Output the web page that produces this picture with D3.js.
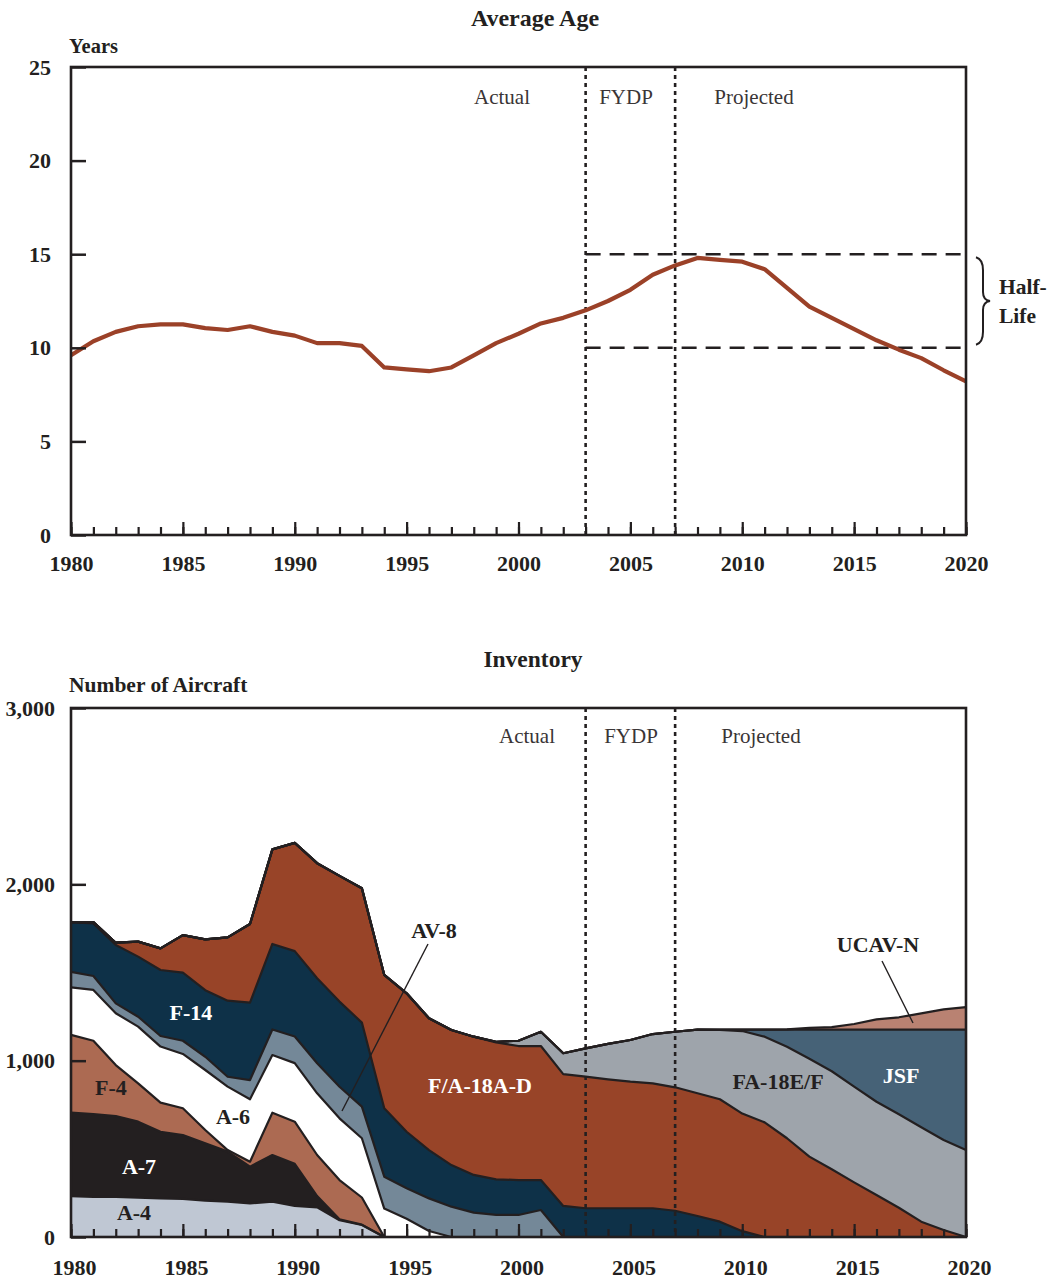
<!DOCTYPE html>
<html>
<head>
<meta charset="utf-8">
<script src="https://cdn.jsdelivr.net/npm/d3@7"></script>
<style>
  html, body { margin: 0; padding: 0; background: #ffffff; }
  svg { display: block; }
  text { font-family: "Liberation Serif", "DejaVu Serif", serif; fill: #231f20; }
</style>
</head>
<body>
<svg id="chart" width="1052" height="1281"></svg>
<script>
// ---- data -------------------------------------------------------------
const years = [1980,1981,1982,1983,1984,1985,1986,1987,1988,1989,
               1990,1991,1992,1993,1994,1995,1996,1997,1998,1999,
               2000,2001,2002,2003,2004,2005,2006,2007,2008,2009,
               2010,2011,2012,2013,2014,2015,2016,2017,2018,2019,2020];

// average fleet age, years
const averageAge = [9.6,10.35,10.85,11.15,11.25,11.25,11.05,10.95,11.15,10.85,
                    10.65,10.25,10.25,10.1,8.95,8.85,8.75,8.95,9.6,10.25,
                    10.75,11.3,11.6,12.0,12.5,13.1,13.9,14.4,14.8,14.7,
                    14.6,14.2,13.2,12.2,11.6,11.0,10.4,9.9,9.45,8.8,8.2];

// inventory by aircraft type, number of aircraft
const a4   = [232,228,227,223,219,216,206,200,191,200,176,168,95,68,0,0,0,0,0,0,0,0,0,0,0,0,0,0,0,0,0,0,0,0,0,0,0,0,0,0,0];
const a7   = [473,469,459,431,378,362,325,284,208,265,239,64,5,2,0,0,0,0,0,0,0,0,0,0,0,0,0,0,0,0,0,0,0,0,0,0,0,0,0,0,0];
const f4   = [441,416,289,217,165,152,76,9,28,240,239,233,223,154,0,0,0,0,0,0,0,0,0,0,0,0,0,0,0,0,0,0,0,0,0,0,0,0,0,0,0];
const a6   = [270,288,294,322,318,308,340,360,354,327,332,350,350,336,161,103,34,0,0,0,0,0,0,0,0,0,0,0,0,0,0,0,0,0,0,0,0,0,0,0,0];
const av8  = [88,79,56,56,60,75,75,56,109,145,151,170,179,179,181,173,185,172,138,125,125,153,0,0,0,0,0,0,0,0,0,0,0,0,0,0,0,0,0,0,0];
const f14  = [282,298,331,341,374,386,378,431,439,485,484,482,483,477,388,321,274,236,214,202,198,170,176,163,163,163,163,149,119,87,33,0,0,0,0,0,0,0,0,0,0];
const fa18ad = [0,8,13,85,123,213,288,359,446,536,614,653,713,762,756,785,747,766,784,777,760,760,748,746,731,718,708,700,696,694,667,650,560,456,384,310,238,166,87,40,0];
const fa18ef = [0,0,0,0,0,0,0,0,0,0,0,0,0,0,0,0,0,0,0,3,30,81,118,161,201,236,280,315,361,393,468,486,519,555,556,543,529,530,535,510,493];
const jsf  = [0,0,0,0,0,0,0,0,0,0,0,0,0,0,0,0,0,0,0,0,0,0,0,0,0,0,0,0,0,2,8,40,97,165,236,323,409,480,554,626,683];
const ucav = [0,0,0,0,0,0,0,0,0,0,0,0,0,0,0,0,0,0,0,0,0,0,0,0,0,0,0,0,0,0,0,0,2,10,14,32,58,70,92,115,128];

const seriesKeys = ["A-4","A-7","F-4","A-6","AV-8","F-14","F/A-18A-D","FA-18E/F","JSF","UCAV-N"];
const seriesValues = [a4, a7, f4, a6, av8, f14, fa18ad, fa18ef, jsf, ucav];
const seriesColors = ["#bfc7d3","#231f20","#ac6a52","#ffffff","#748898","#0e3148","#984428","#9ea4ab","#466277","#b98272"];

const ageTicks = [0,5,10,15,20,25];
const inventoryTicks = [0,1000,2000,3000];
const yearTicks = [1980,1985,1990,1995,2000,2005,2010,2015,2020];
const periodBreaks = [2003, 2007];
const halfLifeBand = [10, 15];
const periodLabels = ["Actual","FYDP","Projected"];

// ---- setup ------------------------------------------------------------
const ink = "#231f20";
const svg = d3.select("#chart");

const x = d3.scaleLinear().domain([1980, 2020]).range([71, 966]);

function yearAxis(g, y0, padding, shift) {
  // minor ticks every year, major ticks with labels every five years
  g.append("g").attr("transform", `translate(0,${y0})`)
    .call(d3.axisBottom(x).tickValues(years).tickSize(-8).tickFormat(""))
    .call(s => s.select(".domain").remove())
    .call(s => s.selectAll("line").attr("stroke", ink).attr("stroke-width", 2.2));
  g.append("g").attr("transform", `translate(0,${y0})`)
    .call(d3.axisBottom(x).tickValues(yearTicks).tickSize(-13).tickPadding(padding).tickFormat(d3.format("d")))
    .call(s => s.select(".domain").remove())
    .call(s => s.selectAll("line").attr("stroke", ink).attr("stroke-width", 2.2))
    .call(s => s.selectAll("text").attr("fill", ink).attr("dx", shift)
      .style("font-size", "22px").style("font-weight", "bold").attr("font-family", null));
}

function valueAxis(g, y, ticks, fmt, padding) {
  g.append("g").attr("transform", `translate(${x.range()[0]},0)`)
    .call(d3.axisLeft(y).tickValues(ticks).tickSize(-15).tickPadding(padding).tickFormat(fmt))
    .call(s => s.select(".domain").remove())
    .call(s => s.selectAll("line").attr("stroke", ink).attr("stroke-width", 2.5))
    .call(s => s.selectAll("text").attr("fill", ink).style("font-size", "22px").style("font-weight", "bold").attr("font-family", null));
}

function frame(g, y) {
  const [x0, x1] = x.range();
  const [yb, yt] = y.range();
  g.append("rect").attr("x", x0).attr("y", yt).attr("width", x1 - x0).attr("height", yb - yt)
    .attr("fill", "none").attr("stroke", ink).attr("stroke-width", 2.6);
}

function periodLines(g, y) {
  const [yb, yt] = y.range();
  g.selectAll("line.period").data(periodBreaks).join("line")
    .attr("class", "period")
    .attr("x1", d => x(d)).attr("x2", d => x(d))
    .attr("y1", yt).attr("y2", yb)
    .attr("stroke", ink).attr("stroke-width", 2.6).attr("stroke-dasharray", "4,4");
}

function periodText(g, xs, baseline) {
  g.selectAll("text.period").data(periodLabels).join("text")
    .attr("class", "period")
    .attr("x", (d, i) => xs[i]).attr("y", baseline)
    .attr("text-anchor", "middle")
    .style("font-size", "21px").style("fill", "#3a3536")
    .text(d => d);
}

// ---- Average Age --------------------------------------------------------
const yAge = d3.scaleLinear().domain([0, 25]).range([535, 67]);
const ageChart = svg.append("g");

ageChart.append("text").attr("x", 535).attr("y", 26).attr("text-anchor", "middle")
  .style("font-size", "24px").style("font-weight", "bold").text("Average Age");
ageChart.append("text").attr("x", 69).attr("y", 53)
  .style("font-size", "20.5px").style("font-weight", "bold").text("Years");

// half-life band
ageChart.selectAll("line.half").data(halfLifeBand).join("line")
  .attr("class", "half")
  .attr("x1", x(2003)).attr("x2", x(2020))
  .attr("y1", d => yAge(d)).attr("y2", d => yAge(d))
  .attr("stroke", ink).attr("stroke-width", 2.6).attr("stroke-dasharray", "15,9");

periodLines(ageChart, yAge);
periodText(ageChart, [502, 626, 754], 104);

ageChart.append("path")
  .datum(years.map((yr, i) => [yr, averageAge[i]]))
  .attr("fill", "none").attr("stroke", "#9b4128").attr("stroke-width", 4.2)
  .attr("stroke-linejoin", "round")
  .attr("d", d3.line().x(d => x(d[0])).y(d => yAge(d[1])));

valueAxis(ageChart, yAge, ageTicks, d3.format("d"), 20);
yearAxis(ageChart, yAge(0), 20, 0);
frame(ageChart, yAge);

// brace marking the half-life band
{
  const yT = yAge(halfLifeBand[1]), yB = yAge(halfLifeBand[0]), yM = (yT + yB) / 2;
  const xa = 976, xb = 983, xc = 990;
  ageChart.append("path")
    .attr("d", `M${xa},${yT + 3} Q${xb},${yT + 5} ${xb},${yT + 16} L${xb},${yM - 9} Q${xb},${yM - 1} ${xc},${yM}` +
               ` Q${xb},${yM + 1} ${xb},${yM + 9} L${xb},${yB - 16} Q${xb},${yB - 5} ${xa},${yB - 3}`)
    .attr("fill", "none").attr("stroke", ink).attr("stroke-width", 2);
  ageChart.append("text").attr("x", 999).attr("y", yM - 7)
    .style("font-size", "21.5px").style("font-weight", "bold").text("Half-");
  ageChart.append("text").attr("x", 999).attr("y", yM + 22)
    .style("font-size", "21.5px").style("font-weight", "bold").text("Life");
}

// ---- Inventory ----------------------------------------------------------
const yInv = d3.scaleLinear().domain([0, 3000]).range([1237, 708]);
const invChart = svg.append("g");

invChart.append("text").attr("x", 533).attr("y", 667).attr("text-anchor", "middle")
  .style("font-size", "23.5px").style("font-weight", "bold").text("Inventory");
invChart.append("text").attr("x", 69).attr("y", 692)
  .style("font-size", "21.5px").style("font-weight", "bold").text("Number of Aircraft");

const table = years.map((yr, i) => {
  const row = { year: yr };
  seriesKeys.forEach((k, j) => { row[k] = seriesValues[j][i]; });
  return row;
});
const stacked = d3.stack().keys(seriesKeys)(table);

const area = d3.area().x(d => x(d.data.year)).y0(d => yInv(d[0])).y1(d => yInv(d[1]));
const edge = d3.line().x(d => x(d.data.year)).y(d => yInv(d[1]));

invChart.selectAll("path.layer").data(stacked).join("path")
  .attr("class", "layer")
  .attr("fill", (d, i) => seriesColors[i])
  .attr("d", area);

invChart.selectAll("path.edge").data(stacked).join("path")
  .attr("class", "edge")
  .attr("fill", "none").attr("stroke", ink).attr("stroke-width", 2.2)
  .attr("stroke-linejoin", "round")
  .attr("d", edge);

periodLines(invChart, yInv);
periodText(invChart, [527, 631, 761], 743);

// series labels
const seriesLabels = [
  { text: "F-14", x: 191, y: 1020, fill: "#ffffff" },
  { text: "F-4", x: 111, y: 1095, fill: ink },
  { text: "A-6", x: 233, y: 1124, fill: ink },
  { text: "A-7", x: 139, y: 1174, fill: "#ffffff" },
  { text: "A-4", x: 134, y: 1220, fill: ink },
  { text: "F/A-18A-D", x: 480, y: 1093, fill: "#ffffff" },
  { text: "FA-18E/F", x: 778, y: 1089, fill: ink },
  { text: "JSF", x: 901, y: 1083, fill: "#ffffff" },
  { text: "AV-8", x: 434, y: 938, fill: ink },
  { text: "UCAV-N", x: 878, y: 952, fill: ink }
];
invChart.selectAll("text.series").data(seriesLabels).join("text")
  .attr("class", "series")
  .attr("x", d => d.x).attr("y", d => d.y).attr("text-anchor", "middle")
  .style("font-size", "22px").style("font-weight", "bold").style("fill", d => d.fill)
  .text(d => d.text);

// leader lines
invChart.append("line").attr("x1", 428).attr("y1", 944).attr("x2", 342).attr("y2", 1111)
  .attr("stroke", ink).attr("stroke-width", 1.4);
invChart.append("line").attr("x1", 882).attr("y1", 961).attr("x2", 913).attr("y2", 1023)
  .attr("stroke", ink).attr("stroke-width", 1.4);

valueAxis(invChart, yInv, inventoryTicks, d3.format(","), 16);
yearAxis(invChart, yInv(0), 22, 3);
frame(invChart, yInv);
</script>
</body>
</html>
